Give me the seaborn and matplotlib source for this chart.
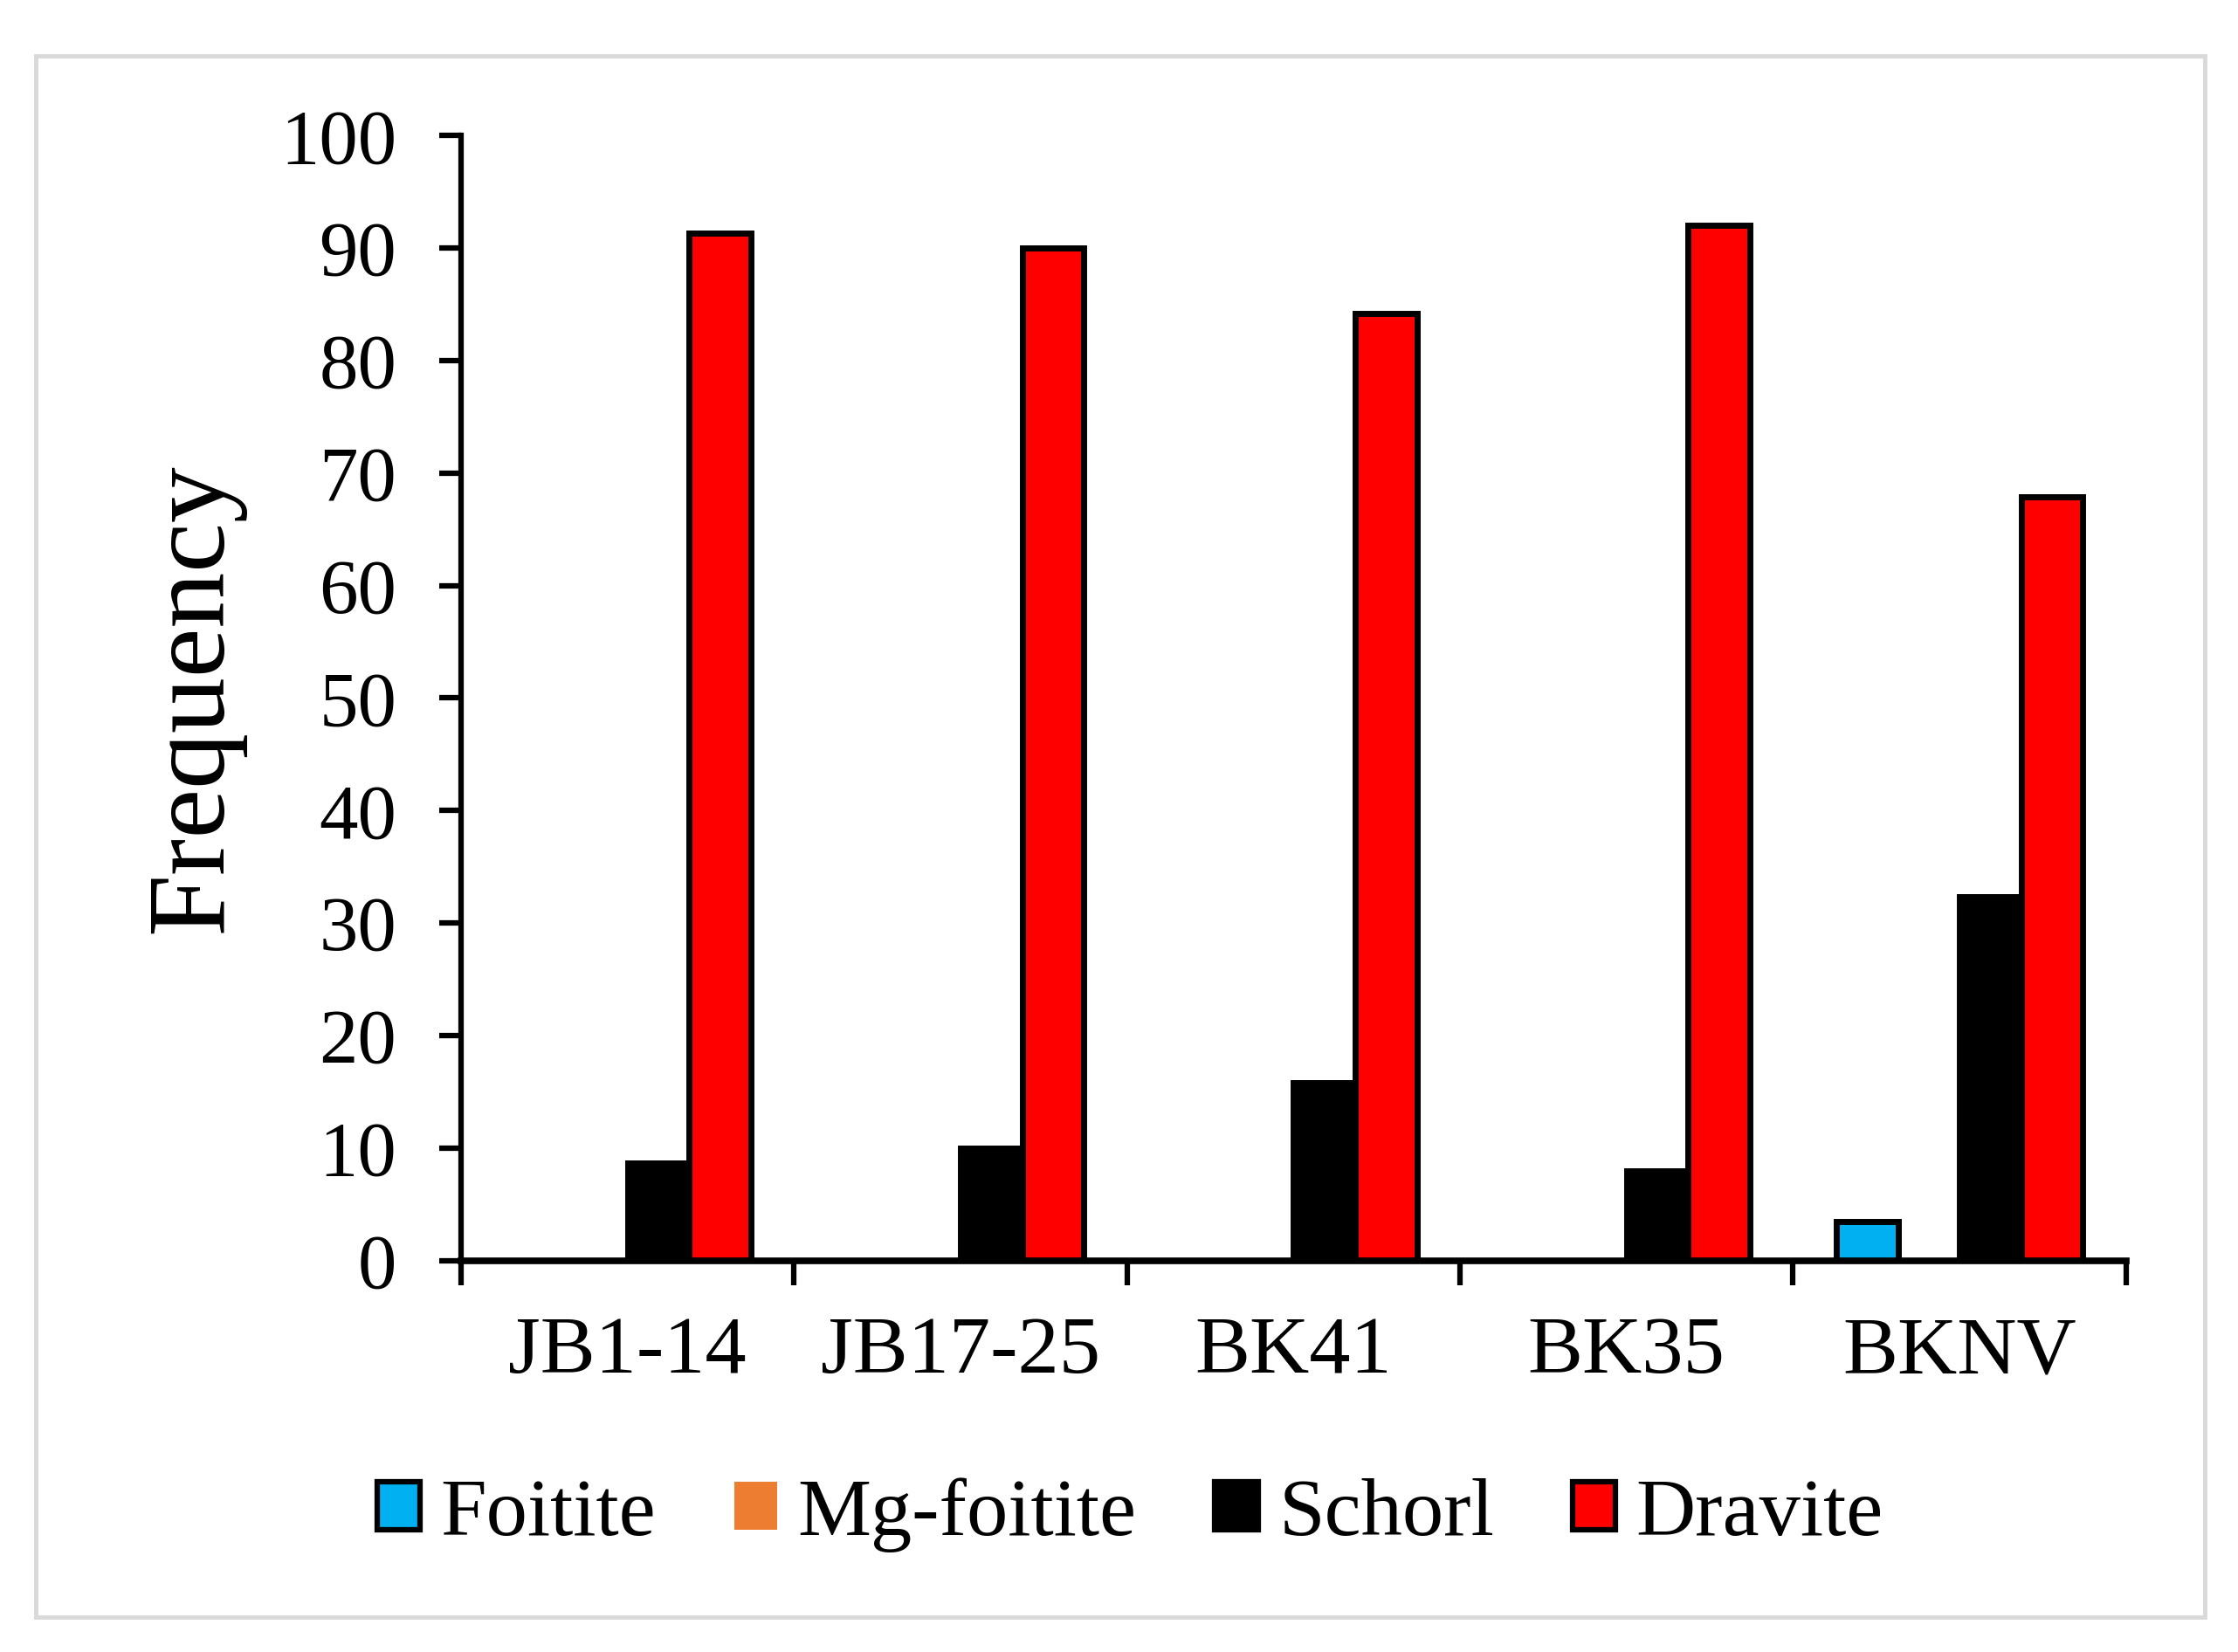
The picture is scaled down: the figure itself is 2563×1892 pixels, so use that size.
import matplotlib
matplotlib.use('Agg')
import matplotlib.pyplot as plt
import matplotlib.patches as mpatches
import numpy as np
import pandas as pd
import seaborn as sns

samples = ['JB1-14', 'JB17-25', 'BK41', 'BK35', 'BKNV']
species = ['Foitite', 'Mg-foitite', 'Schorl', 'Dravite']
foitite = [0, 0, 0, 0, 3.5]
mg_foitite = [0, 0, 0, 0, 0]
schorl = [8.7, 10.0, 15.8, 8.0, 32.3]
dravite = [91.3, 90.0, 84.2, 92.0, 67.9]
colors = ['#00B0F0', '#ED7D31', '#000000', '#FF0000']

rows = []
for name, vals in zip(species, [foitite, mg_foitite, schorl, dravite]):
    for s, v in zip(samples, vals):
        rows.append({'sample': s, 'species': name, 'freq': v})
df = pd.DataFrame(rows)

sns.set_style('ticks')
plt.rcParams['font.family'] = ['Liberation Serif', 'DejaVu Serif']
plt.rcParams.update({'text.color': 'black', 'axes.labelcolor': 'black',
                     'xtick.color': 'black', 'ytick.color': 'black',
                     'axes.edgecolor': 'black'})

fig = plt.figure(figsize=(25.63, 18.92), dpi=100)
ax = fig.add_axes([0.206, 0.237, 0.744, 0.681])

sns.barplot(data=df, x='sample', y='freq', hue='species', hue_order=species,
            palette=colors, saturation=1, width=0.74, gap=0,
            edgecolor='black', linewidth=5, legend=False, ax=ax)

ax.set_xlim(-0.5, 4.5)
ax.set_ylim(0, 100)
ax.set_yticks(np.arange(0, 101, 10))
ax.set_xticks(np.arange(-0.5, 5, 1), minor=True)
ax.tick_params(axis='x', which='major', length=0, pad=46, labelsize=68)
ax.tick_params(axis='x', which='minor', length=20, width=4.5, direction='out')
ax.tick_params(axis='y', length=18, width=4.5, direction='out', pad=35, labelsize=64)
for sp in ['top', 'right']:
    ax.spines[sp].set_visible(False)
for sp in ['left', 'bottom']:
    ax.spines[sp].set_linewidth(4.5)
    ax.spines[sp].set_color('black')
ax.spines['bottom'].set_linewidth(5.5)

ax.set_xlabel('')
ax.set_ylabel('Frequency', fontsize=92)
ax.yaxis.set_label_coords(-0.13, 0.5)

handles = []
for name, c in zip(species, colors):
    ec = 'none' if name == 'Mg-foitite' else 'black'
    handles.append(mpatches.Patch(facecolor=c, edgecolor=ec, linewidth=4.5, label=name))
fig.legend(handles=handles, loc='center', bbox_to_anchor=(0.505, 0.083), ncol=4,
           frameon=False, fontsize=68, handlelength=0.52, handleheight=0.52,
           handletextpad=0.25, columnspacing=0.95)

fig.patches.append(mpatches.Rectangle((0.016, 0.021), 0.969, 0.945, transform=fig.transFigure,
                                      fill=False, edgecolor='#D9D9D9', linewidth=3.5))

fig.savefig('out.png', dpi=100)
